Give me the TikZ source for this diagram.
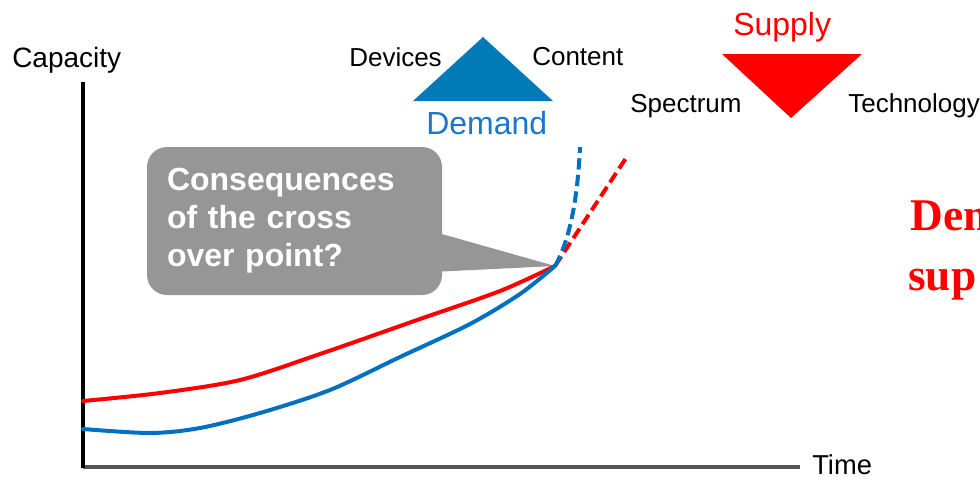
\documentclass[tikz,border=0pt]{standalone}
\usepackage{fontspec}
\setmainfont{Liberation Sans}
\newfontfamily\timesfont{Liberation Serif}

\definecolor{demandblue}{RGB}{0,123,184}
\definecolor{demandtext}{RGB}{30,118,200}
\definecolor{curveblue}{RGB}{0,112,192}
\definecolor{callgray}{RGB}{150,150,150}
\definecolor{axisgray}{RGB}{85,85,85}

\begin{document}
\begin{tikzpicture}[x=0.75pt,y=-0.75pt]
  \tikzstyle{txt}=[inner sep=0pt,anchor=base west,font=\fontsize{19.5}{23}\selectfont]
  \tikzstyle{bigtxt}=[txt,font=\fontsize{24}{28}\selectfont]
  \tikzstyle{curve}=[line width=3pt,line cap=round]
  \tikzstyle{dashcurve}=[line width=3pt,dash pattern=on 8.5pt off 4pt]
  \tikzstyle{callbox}=[fill=callgray,rounded corners=15pt,text=white,align=left,
    font=\bfseries\fontsize{24}{28.5}\selectfont,text width=191.25pt,
    inner xsep=15pt,inner ysep=0pt,minimum height=111pt]
  \useasboundingbox (0,0) rectangle (980,479);
  \clip (0,0) rectangle (980,479);
  % axes
  \coordinate (origin) at (83,467);
  \coordinate (ytop) at (83,82);
  \coordinate (xend) at (800,467);
  \draw[axisgray,line width=3pt] (origin) -- (xend);
  \draw[line width=3pt] ([yshift=-1pt]origin) -- (ytop);
  \node[txt,font=\fontsize{21}{25}\selectfont] (capacity) at (12,67) {Capacity};
  \node[txt,font=\fontsize{20.5}{25}\selectfont] (time) at (812,474) {Time};
  % callout
  \coordinate (cross) at (555,266);
  \node[callbox] (question) at (294.5,221) {Consequences\\of the cross\\over point?};
  \fill[callgray] ([xshift=-3pt,yshift=-9pt]question.east) -- (cross)
    -- ([xshift=-3pt,yshift=-38pt]question.east) -- cycle;
  % curves
  \draw[curve,red] plot[smooth] coordinates {(83,401) (160,393) (240,380) (320,354)
    (420,319) (500,291) (cross)};
  \draw[curve,curveblue] plot[smooth] coordinates {(83,429) (150,433) (200,428)
    (260,413) (330,390) (400,357) (470,324) (520,294) (cross)};
  \draw[dashcurve,red] (cross) -- (628,155);
  \draw[dashcurve,curveblue] (cross) .. controls (572,236) and (578,190) .. (580,147);
  % demand
  \fill[demandblue] (483,37) -- (553,101) -- (413,101) -- cycle;
  \node[txt] (devices) at (349,66) {Devices};
  \node[txt] (content) at (532,65) {Content};
  \node[bigtxt,text=demandtext] (demand) at (426,134) {Demand};
  % supply
  \fill[red] (722,54) -- (862,54) -- (791,118) -- cycle;
  \node[bigtxt,text=red] (supply) at (733,35) {Supply};
  \node[txt] (spectrum) at (630,112) {Spectrum};
  \node[txt] (technology) at (848,112) {Technology};
  % cut-off statement
  \node[txt,text=red,font=\timesfont\bfseries\fontsize{34}{45}\selectfont] (dem) at (910,230) {Dem};
  \node[txt,text=red,font=\timesfont\bfseries\fontsize{34}{45}\selectfont] (sup) at (908,290) {sup};
\end{tikzpicture}
\end{document}
